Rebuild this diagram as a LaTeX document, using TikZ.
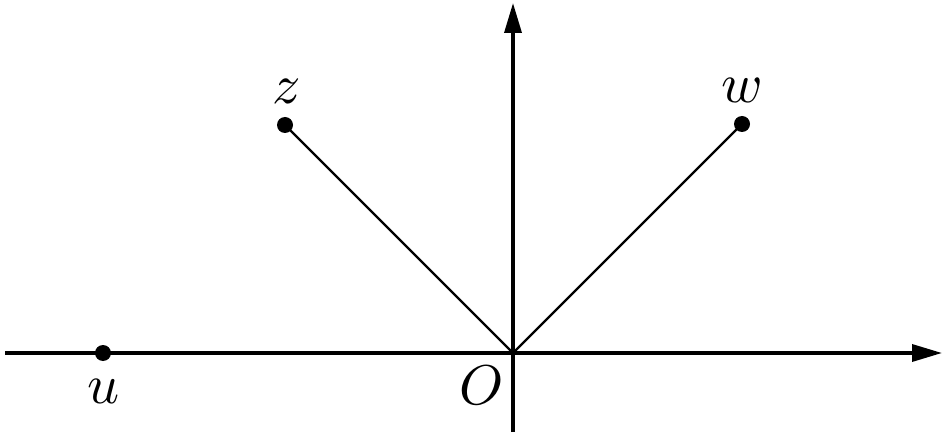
\documentclass[tikz,border=0pt]{standalone}
\usepackage{graphicx}
\usetikzlibrary{arrows.meta}
\newcommand{\biglbl}[1]{\scalebox{5.6}{$#1$}}
\begin{document}
\begin{tikzpicture}[x=1pt,y=-1pt,
  axis/.style={line width=3.5pt,-{Triangle[length=30pt,width=17pt]}},
  ray/.style={line width=2.4pt},
  pt/.style={circle,fill=black,inner sep=0pt,minimum size=16pt},
  lbl/.style={inner sep=0pt,anchor=base}]
\useasboundingbox (0,0) rectangle (950,438);
\coordinate (O) at (513,353);
\coordinate (xl) at (5,353);
\coordinate (xr) at (942,353);
\coordinate (yb) at (513,432);
\coordinate (yt) at (513,3);
\draw[axis] (xl) -- (xr);
\draw[axis] (yb) -- (yt);
\node[pt] (z) at (285,125) {};
\node[pt] (w) at (742,124) {};
\node[pt] (u) at (103,353) {};
\draw[ray] (O) -- (z.center);
\draw[ray] (O) -- (w.center);
\node[lbl] (zl) at (287,104) {\biglbl{z}};
\node[lbl] (wl) at (742,103) {\biglbl{w}};
\node[lbl] (ul) at (104,403) {\biglbl{u}};
\node[lbl] (Ol) at (482,404) {\biglbl{O}};
\end{tikzpicture}
\end{document}
